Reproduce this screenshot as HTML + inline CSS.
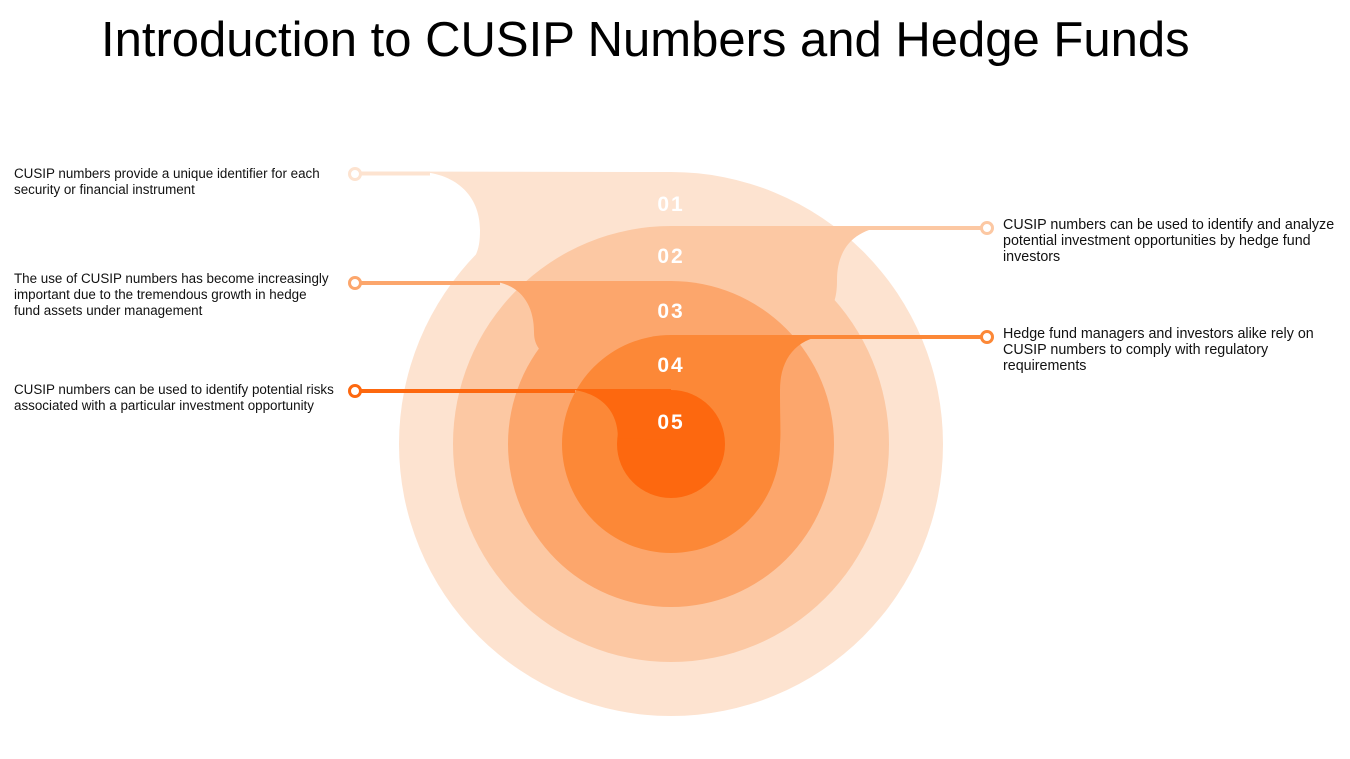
<!DOCTYPE html>
<html><head><meta charset="utf-8"><style>
body{margin:0;width:1350px;height:759px;background:#fff;overflow:hidden;position:relative;font-family:"Liberation Sans",sans-serif}
.t{position:absolute;left:101px;top:12px;font-size:49px;color:#000;white-space:nowrap}
.p{position:absolute;font-size:13.4px;line-height:16px;color:#111;white-space:nowrap}
.r{font-size:14.3px}
</style></head><body>
<div class="t">Introduction to CUSIP Numbers and Hedge Funds</div>
<svg width="1350" height="759" style="position:absolute;left:0;top:0">
<g fill="#fde3d0">
<circle cx="671" cy="444" r="272"/>
<path d="M360,171.5 H415 C455,172 480,195 480,230 C480,245 478,252 472,262 L671,262 L671,172 Z"/>
<rect x="360" y="171.5" width="70" height="4"/>
</g>
<circle cx="355" cy="174" r="5.5" fill="#fff" stroke="#fde3d0" stroke-width="3"/>
<g fill="#fcc8a3">
<circle cx="671" cy="444" r="218"/>
<path d="M671,226 H890 C855,228 837,248 837,280 C837,290 836,296 834,302 L671,302 Z"/>
<rect x="860" y="226" width="122" height="4"/>
</g>
<circle cx="987" cy="228" r="5.5" fill="#fff" stroke="#fcc8a3" stroke-width="3"/>
<g fill="#fca66c">
<circle cx="671" cy="444" r="163"/>
<path d="M671,281 H485 C518,281 534,302 534,332 C534,340 536,345 540,350 L671,350 Z"/>
<rect x="360" y="281" width="140" height="4"/>
</g>
<circle cx="355" cy="283" r="5.5" fill="#fff" stroke="#fca66c" stroke-width="3"/>
<g fill="#fc8837">
<circle cx="671" cy="444" r="109"/>
<path d="M671,335 H830 C797,337 780,358 780,390 C780,420 781,432 780,444 L671,444 Z"/>
<rect x="800" y="335" width="182" height="4"/>
</g>
<circle cx="987" cy="337" r="5.5" fill="#fff" stroke="#fc8837" stroke-width="3"/>
<g fill="#fd680f">
<circle cx="671" cy="444" r="54"/>
<path d="M671,389 H565 C600,391 618,410 618,438 L671,440 Z"/>
<rect x="360" y="389" width="215" height="4"/>
</g>
<circle cx="355" cy="391" r="5.5" fill="#fff" stroke="#fd680f" stroke-width="3"/>
<g fill="#fff" font-family="Liberation Sans" font-weight="bold" font-size="21" text-anchor="middle" letter-spacing="2">
<text x="671" y="211">01</text>
<text x="671" y="263">02</text>
<text x="671" y="318">03</text>
<text x="671" y="372">04</text>
<text x="671" y="429">05</text>
</g>
</svg>
<div class="p" style="left:14px;top:166px">CUSIP numbers provide a unique identifier for each<br>security or financial instrument</div>
<div class="p" style="left:14px;top:271px">The use of CUSIP numbers has become increasingly<br>important due to the tremendous growth in hedge<br>fund assets under management</div>
<div class="p" style="left:14px;top:382px">CUSIP numbers can be used to identify potential risks<br>associated with a particular investment opportunity</div>
<div class="p r" style="left:1003px;top:217px">CUSIP numbers can be used to identify and analyze<br>potential investment opportunities by hedge fund<br>investors</div>
<div class="p r" style="left:1003px;top:326px">Hedge fund managers and investors alike rely on<br>CUSIP numbers to comply with regulatory<br>requirements</div>
</body></html>
